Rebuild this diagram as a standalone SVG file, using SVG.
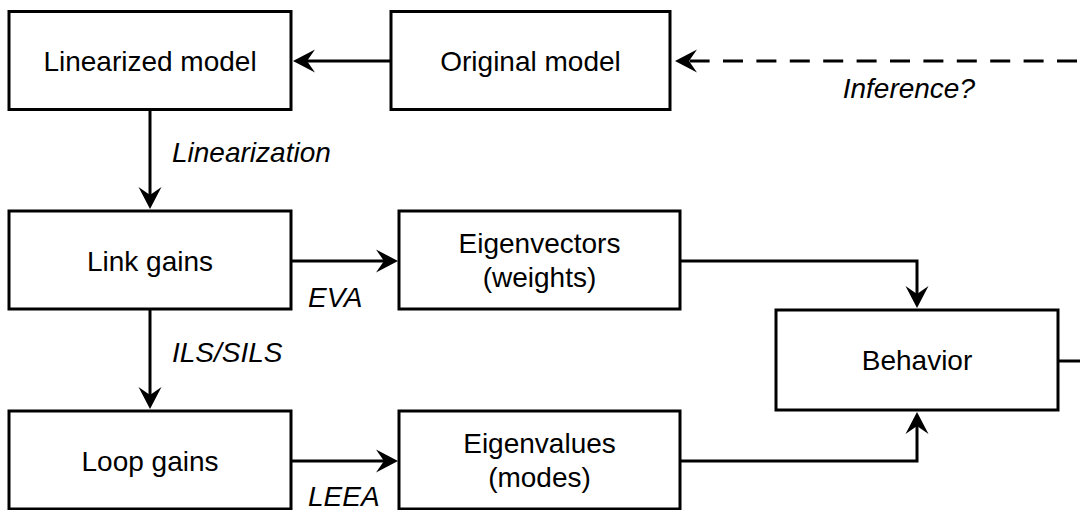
<svg xmlns="http://www.w3.org/2000/svg" width="1080" height="510" viewBox="0 0 1080 510">
  <style>
    .box { fill: #ffffff; stroke: #000000; stroke-width: 3; }
    .lbl { font-family: "Liberation Sans", Arial, sans-serif; font-size: 28px; fill: #000000; text-anchor: middle; }
    .edge { fill: none; stroke: #000000; stroke-width: 3; }
    .dash { stroke-dasharray: 20 13.4; }
    .elbl { font-family: "Liberation Sans", Arial, sans-serif; font-size: 28px; font-style: italic; fill: #000000; }
  </style>
  <defs>
    <marker id="ah" markerUnits="userSpaceOnUse" markerWidth="40" markerHeight="40" viewBox="-20 -20 40 40" refX="2" refY="0" orient="auto" overflow="visible">
      <path d="M14,0 L-8,-11.5 L0,0 L-8,11.5 Z" fill="#000000"/>
    </marker>
  </defs>
  <rect width="1080" height="510" fill="#ffffff"/>

  <g id="connectors">
    <path class="edge" d="M390,61 L305,61" marker-end="url(#ah)"/>
    <path class="edge dash" d="M1077,61 L687,61" marker-end="url(#ah)"/>
    <path class="edge" d="M150,110 L150,197" marker-end="url(#ah)"/>
    <path class="edge" d="M291,261 L386,261" marker-end="url(#ah)"/>
    <path class="edge" d="M150,309 L150,397" marker-end="url(#ah)"/>
    <path class="edge" d="M291,461 L386,461" marker-end="url(#ah)"/>
    <path class="edge" d="M680,261 L917,261 L917,296" marker-end="url(#ah)"/>
    <path class="edge" d="M680,461 L917,461 L917,424" marker-end="url(#ah)"/>
    <path class="edge" d="M1058,361 L1080,361"/>
    <text class="elbl" x="172" y="162">Linearization</text>
    <text class="elbl" x="975" y="98" text-anchor="end">Inference?</text>
    <text class="elbl" x="308" y="307">EVA</text>
    <text class="elbl" x="172" y="362">ILS/SILS</text>
    <text class="elbl" x="308" y="506">LEEA</text>
  </g>

  <g id="linearized-model">
    <rect class="box" x="9" y="11.5" width="282" height="98"/>
    <text class="lbl" x="150" y="71">Linearized model</text>
  </g>
  <g id="original-model">
    <rect class="box" x="391" y="11.5" width="279" height="98"/>
    <text class="lbl" x="530.5" y="71">Original model</text>
  </g>
  <g id="link-gains">
    <rect class="box" x="9" y="211" width="282" height="98"/>
    <text class="lbl" x="150" y="271">Link gains</text>
  </g>
  <g id="eigenvectors">
    <rect class="box" x="399" y="211" width="281" height="98"/>
    <text class="lbl" x="539.5" y="253">Eigenvectors</text>
    <text class="lbl" x="539.5" y="287">(weights)</text>
  </g>
  <g id="behavior">
    <rect class="box" x="776" y="310" width="282" height="100"/>
    <text class="lbl" x="917" y="370">Behavior</text>
  </g>
  <g id="loop-gains">
    <rect class="box" x="9" y="411" width="282" height="98"/>
    <text class="lbl" x="150" y="471">Loop gains</text>
  </g>
  <g id="eigenvalues">
    <rect class="box" x="399" y="411" width="281" height="98"/>
    <text class="lbl" x="539.5" y="453">Eigenvalues</text>
    <text class="lbl" x="539.5" y="487">(modes)</text>
  </g>
</svg>
